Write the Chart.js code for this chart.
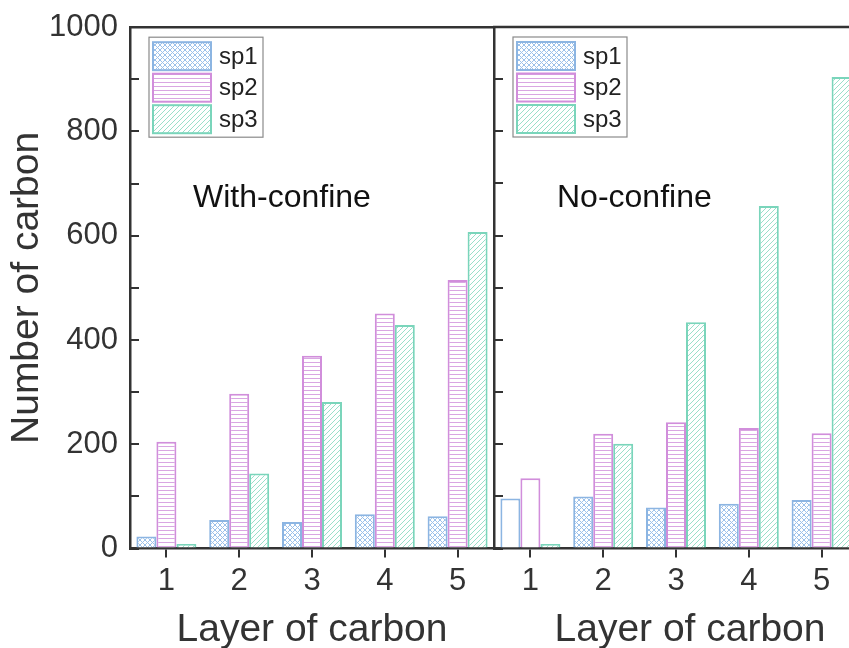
<!DOCTYPE html>
<html>
<head>
<meta charset="utf-8">
<script src="https://cdn.jsdelivr.net/npm/chart.js"></script>
<style>
  html, body { margin: 0; padding: 0; background: #fff; overflow: hidden; }
  #wrap { position: relative; width: 849px; height: 648px; overflow: hidden; }
  canvas { position: absolute; top: 0; }
  #left { left: 0; }
  #right { left: 484px; }
</style>
</head>
<body>
<div id="wrap">
  <canvas id="left" width="494" height="648"></canvas>
  <canvas id="right" width="412" height="648"></canvas>
</div>
<script>
// categories and tick labels
const layers = ['1', '2', '3', '4', '5'];
const yLabels = [0, 200, 400, 600, 800, 1000];
const seriesNames = ['sp1', 'sp2', 'sp3'];

// With-confine panel
const withSp1 = [23, 55, 51, 66, 62];
const withSp2 = [205, 297, 370, 451, 515];
const withSp3 = [9, 144, 281, 429, 607];

// No-confine panel
const noSp1 = [96, 100, 79, 86, 93];
const noSp2 = [135, 220, 242, 231, 221];
const noSp3 = [9, 201, 434, 657, 904];

const INK = '#333';
const FONT = '"Liberation Sans", Arial, sans-serif';
Chart.defaults.font.family = FONT;
Chart.defaults.color = INK;

const borders = ['#8cb5e2', '#d18edb', '#7ad5bb'];
const hatchInk = ['#9cc1ea', '#d9a6e2', '#9adfca'];

// hatch tiles: cross, horizontal, diagonal
function makePattern(ctx, kind, color) {
  const s = kind === 'horizontal' ? 4 : 5;
  const c = document.createElement('canvas');
  c.width = s; c.height = s;
  const g = c.getContext('2d');
  g.fillStyle = '#fff';
  g.fillRect(0, 0, s, s);
  g.strokeStyle = color;
  g.lineWidth = 1;
  g.beginPath();
  if (kind === 'horizontal') {
    g.moveTo(0, 2.5); g.lineTo(s, 2.5);
  } else {
    g.moveTo(-1, s + 1); g.lineTo(s + 1, -1);
    g.moveTo(-1, 1); g.lineTo(1, -1);
    g.moveTo(s - 1, s + 1); g.lineTo(s + 1, s - 1);
    if (kind === 'cross') {
      g.moveTo(-1, -1); g.lineTo(s + 1, s + 1);
      g.moveTo(s - 1, -1); g.lineTo(s + 1, 1);
      g.moveTo(-1, s - 1); g.lineTo(1, s + 1);
    }
  }
  g.stroke();
  return ctx.createPattern(c, 'repeat');
}

function patternsFor(ctx) {
  return [
    makePattern(ctx, 'cross', hatchInk[0]),
    makePattern(ctx, 'horizontal', hatchInk[1]),
    makePattern(ctx, 'diagonal', hatchInk[2])
  ];
}

// top frame line, panel caption and boxed legend
function panelDecor(caption) {
  return {
    id: 'panelDecor',
    afterDraw(chart) {
      const { ctx, chartArea: ca } = chart;
      ctx.save();
      ctx.strokeStyle = INK;
      ctx.lineWidth = 2.5;
      ctx.beginPath();
      ctx.moveTo(ca.left - 1, ca.top);
      ctx.lineTo(ca.right + 1, ca.top);
      ctx.stroke();

      ctx.fillStyle = '#111';
      ctx.font = '32px ' + FONT;
      ctx.textBaseline = 'alphabetic';
      ctx.fillText(caption, ca.left + 63, ca.top + 180);

      const lx = ca.left + 19, ly = ca.top + 10;
      ctx.fillStyle = '#fff';
      ctx.fillRect(lx, ly, 114, 100);
      ctx.strokeStyle = '#8a8a8a';
      ctx.lineWidth = 1.2;
      ctx.strokeRect(lx, ly, 114, 100);
      chart.data.datasets.forEach((ds, i) => {
        const sy = ly + 5 + i * 31.5;
        ctx.fillStyle = ds.swatch;
        ctx.fillRect(lx + 4, sy, 58, 28);
        ctx.strokeStyle = ds.borderColor;
        ctx.lineWidth = 2;
        ctx.strokeRect(lx + 4, sy, 58, 28);
        ctx.fillStyle = '#222';
        ctx.font = '24px ' + FONT;
        ctx.textBaseline = 'middle';
        ctx.fillText(ds.label, lx + 70, sy + 15);
      });
      ctx.restore();
    }
  };
}

function yAxis(showLabels, width) {
  return {
    min: 0,
    max: 1000,
    ticks: {
      display: showLabels,
      stepSize: 100,
      font: { size: 31, lineHeight: 0.4 },
      color: INK,
      padding: 21,
      callback: v => (yLabels.includes(v) ? v : '')
    },
    grid: { drawOnChartArea: false, tickLength: -9, color: INK, lineWidth: 2 },
    border: { color: INK, width: 2.5 },
    title: {
      display: showLabels,
      text: 'Number of carbon',
      font: { size: 39, lineHeight: 1.2 },
      color: INK,
      padding: { top: 4, bottom: 0 }
    },
    afterFit: s => { s.width = width; }
  };
}

function xAxis(withTitle, height) {
  return {
    grid: { drawOnChartArea: false, offset: false, tickLength: 9, color: INK, lineWidth: 2 },
    border: { color: INK, width: 2.5 },
    ticks: { font: { size: 31 }, color: INK, padding: 5 },
    title: {
      display: withTitle,
      text: 'Layer of carbon',
      font: { size: 39, lineHeight: 1.0 },
      color: INK,
      padding: { top: 0, bottom: -2 }
    },
    afterFit: s => { s.height = height; }
  };
}

function makeDatasets(values, pats, blankFirst) {
  return values.map((data, i) => ({
    label: seriesNames[i],
    data: data,
    swatch: pats[i],
    backgroundColor: data.map((_, j) => (blankFirst[i] && j === 0 ? '#fff' : pats[i])),
    borderColor: borders[i],
    borderWidth: 2
  }));
}

const barOpts = { categoryPercentage: 0.824, barPercentage: 1 };

// left panel
const leftCtx = document.getElementById('left').getContext('2d');
new Chart(leftCtx, {
  type: 'bar',
  data: {
    labels: layers,
    datasets: makeDatasets([withSp1, withSp2, withSp3], patternsFor(leftCtx), [false, false, false])
  },
  options: {
    responsive: false,
    animation: false,
    layout: { padding: { top: 27, left: 0, right: 0, bottom: 0 } },
    datasets: { bar: barOpts },
    plugins: { legend: { display: false }, tooltip: { enabled: false } },
    scales: { x: xAxis(true, 99.4), y: yAxis(true, 130) }
  },
  plugins: [panelDecor('With-confine')]
});

// right panel (cut at the window edge)
const rightCtx = document.getElementById('right').getContext('2d');
new Chart(rightCtx, {
  type: 'bar',
  data: {
    labels: layers,
    datasets: makeDatasets([noSp1, noSp2, noSp3], patternsFor(rightCtx), [true, true, false])
  },
  options: {
    responsive: false,
    animation: false,
    layout: { padding: { top: 27, left: 0, right: 0, bottom: 0 } },
    datasets: { bar: barOpts },
    plugins: {
      legend: { display: false },
      tooltip: { enabled: false },
      title: {
        display: true,
        position: 'bottom',
        text: 'Layer of carbon',
        font: { size: 39, lineHeight: 1.0, weight: 'normal' },
        color: INK,
        padding: { top: 0, bottom: -2 }
      }
    },
    scales: {
      x: xAxis(false, 99.4 - 37),
      y: yAxis(false, 10),
      pad: {
        position: 'right',
        display: true,
        grid: { display: false },
        border: { display: false },
        ticks: { display: false },
        afterFit: s => { s.width = 38; }
      }
    }
  },
  plugins: [panelDecor('No-confine')]
});
</script>
</body>
</html>
